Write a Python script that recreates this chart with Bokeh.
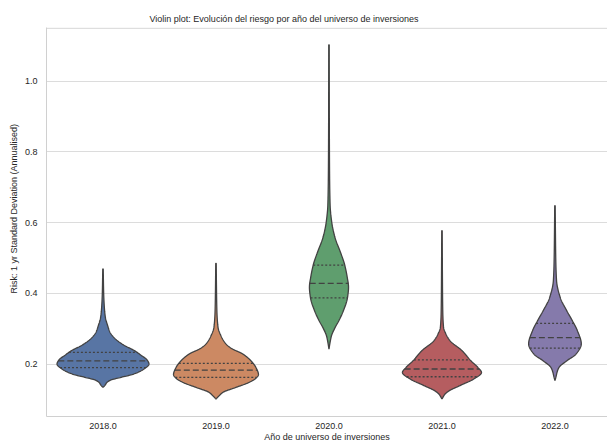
import numpy as np
from bokeh.plotting import figure
from bokeh.models import Range1d, FixedTicker, ColumnDataSource, Title, Span
from bokeh.embed import file_html
from bokeh.resources import INLINE

# ---------------- data ----------------
years = [2018.0, 2019.0, 2020.0, 2021.0, 2022.0]
colors = ["#5875a4", "#cc8963", "#5f9e6e", "#b55d60", "#857aab"]

# density profile of each violin: risk levels and half-widths (category units)
risk_2018 = [0.134, 0.140, 0.148, 0.155, 0.162, 0.172, 0.186, 0.200, 0.212, 0.225,
             0.237, 0.255, 0.275, 0.290, 0.310, 0.330, 0.360, 0.400, 0.469]
dens_2018 = [0.000, 0.018, 0.035, 0.071, 0.155, 0.274, 0.363, 0.407, 0.389, 0.336,
             0.283, 0.177, 0.097, 0.062, 0.040, 0.022, 0.012, 0.006, 0.002]

risk_2019 = [0.101, 0.110, 0.120, 0.134, 0.148, 0.160, 0.170, 0.190, 0.209, 0.228,
             0.245, 0.257, 0.280, 0.304, 0.350, 0.400, 0.485]
dens_2019 = [0.000, 0.027, 0.062, 0.177, 0.292, 0.354, 0.376, 0.354, 0.310, 0.239,
             0.133, 0.088, 0.044, 0.018, 0.008, 0.005, 0.002]

risk_2020 = [0.242, 0.260, 0.280, 0.300, 0.323, 0.351, 0.388, 0.417, 0.450, 0.483,
             0.520, 0.558, 0.600, 0.650, 0.750, 0.900, 1.103]
dens_2020 = [0.000, 0.009, 0.022, 0.049, 0.088, 0.128, 0.164, 0.173, 0.159, 0.137,
             0.097, 0.053, 0.025, 0.010, 0.005, 0.003, 0.002]

risk_2021 = [0.101, 0.115, 0.124, 0.139, 0.158, 0.176, 0.190, 0.209, 0.238, 0.266,
             0.285, 0.304, 0.350, 0.450, 0.577]
dens_2021 = [0.000, 0.027, 0.062, 0.159, 0.283, 0.350, 0.319, 0.257, 0.177, 0.071,
             0.035, 0.014, 0.007, 0.004, 0.002]

risk_2022 = [0.153, 0.165, 0.176, 0.190, 0.209, 0.228, 0.257, 0.294, 0.322, 0.351,
             0.388, 0.436, 0.500, 0.580, 0.648]
dens_2022 = [0.000, 0.010, 0.018, 0.035, 0.104, 0.186, 0.233, 0.199, 0.155, 0.104,
             0.047, 0.014, 0.007, 0.004, 0.002]

q1 = [0.190, 0.162, 0.387, 0.164, 0.245]
median = [0.209, 0.183, 0.428, 0.186, 0.275]
q3 = [0.233, 0.202, 0.480, 0.212, 0.315]

yticks = [0.2, 0.4, 0.6, 0.8, 1.0]

profiles = [(risk_2018, dens_2018), (risk_2019, dens_2019), (risk_2020, dens_2020),
            (risk_2021, dens_2021), (risk_2022, dens_2022)]


def pchip(x, y, xn):
    x = np.asarray(x, float); y = np.asarray(y, float); xn = np.asarray(xn, float)
    h = np.diff(x); d = np.diff(y) / h
    m = np.zeros_like(y)
    m[0] = d[0]; m[-1] = d[-1]
    for k in range(1, len(x) - 1):
        if d[k - 1] * d[k] <= 0:
            m[k] = 0.0
        else:
            w1 = 2 * h[k] + h[k - 1]; w2 = h[k] + 2 * h[k - 1]
            m[k] = (w1 + w2) / (w1 / d[k - 1] + w2 / d[k])
    idx = np.clip(np.searchsorted(x, xn) - 1, 0, len(x) - 2)
    t = (xn - x[idx]) / h[idx]
    h00 = 2 * t**3 - 3 * t**2 + 1; h10 = t**3 - 2 * t**2 + t
    h01 = -2 * t**3 + 3 * t**2; h11 = t**3 - t**2
    out = h00 * y[idx] + h10 * h[idx] * m[idx] + h01 * y[idx + 1] + h11 * h[idx] * m[idx + 1]
    return np.clip(out, 0, None)


xs_list, ys_list = [], []
for i, (rk, dn) in enumerate(profiles):
    yn = np.linspace(rk[0], rk[-1], 400)
    wn = pchip(rk, dn, yn)
    xs_list.append(list(np.concatenate([i - wn, (i + wn)[::-1]])))
    ys_list.append(list(np.concatenate([yn, yn[::-1]])))

src = ColumnDataSource(dict(xs=xs_list, ys=ys_list, color=colors))

med_x0, med_x1, qx0, qx1, qy = [], [], [], [], []
for i, (rk, dn) in enumerate(profiles):
    wm = float(pchip(rk, dn, [median[i]])[0])
    med_x0.append(i - wm); med_x1.append(i + wm)
    for q in (q1[i], q3[i]):
        wq = float(pchip(rk, dn, [q])[0])
        qx0.append(i - wq); qx1.append(i + wq); qy.append(q)

FONT = "Liberation Sans"
TXT = "#262626"
SPINE = "#d0d0d0"
Y_TOP = 1.152

p = figure(width=607, height=445,
           x_range=Range1d(-0.5, 4.465), y_range=Range1d(0.0516, Y_TOP),
           output_backend="svg", toolbar_location=None,
           title="Violin plot: Evolución del riesgo por año del universo de inversiones",
           min_border_left=46, min_border_right=0, min_border_top=27, min_border_bottom=29)

p.title.align = "left"
p.title.offset = 103
p.title.standoff = 8
p.title.text_font = FONT
p.title.text_font_size = "9px"
p.title.text_font_style = "normal"
p.title.text_color = TXT

p.background_fill_color = "white"
p.border_fill_color = "white"
p.outline_line_color = None

p.xgrid.visible = False
p.ygrid.grid_line_color = "#dcdcdc"
p.ygrid.grid_line_width = 1
p.ygrid.ticker = FixedTicker(ticks=yticks)

p.xaxis.ticker = FixedTicker(ticks=list(range(len(years))))
p.xaxis.major_label_overrides = {i: f"{y:.1f}" for i, y in enumerate(years)}
p.yaxis.ticker = FixedTicker(ticks=yticks)
p.yaxis.major_label_overrides = {t: f"{t:.1f}" for t in yticks}

p.xaxis.axis_label = "Año de universo de inversiones"

for ax in (p.xaxis[0], p.yaxis[0]):
    ax.axis_line_color = SPINE
    ax.axis_line_width = 1
    ax.major_tick_line_color = None
    ax.minor_tick_line_color = None
    ax.major_tick_out = 0
    ax.major_tick_in = 0
    ax.minor_tick_out = 0
    ax.major_label_text_font = FONT
    ax.major_label_text_font_size = "9px"
    ax.major_label_text_color = TXT
    ax.axis_label_text_font = FONT
    ax.axis_label_text_font_size = "9px"
    ax.axis_label_text_font_style = "normal"
    ax.axis_label_text_color = TXT

p.xaxis.major_label_standoff = 6
p.xaxis.axis_label_standoff = 0
p.yaxis.major_label_standoff = 9

# top spine (the right one is cut off in the reference), just inside the frame
p.add_layout(Span(location=Y_TOP - 0.002, dimension="width", line_color=SPINE, line_width=1))

# y-axis title, placed like the reference (slightly above the frame centre)
ytitle = Title(text="Risk: 1 yr Standard Deviation (Annualised)", align="left", offset=123,
               standoff=5, text_font=FONT, text_font_size="9px", text_font_style="normal",
               text_color=TXT)
p.add_layout(ytitle, "left")

p.patches(xs="xs", ys="ys", source=src, fill_color="color", fill_alpha=1,
          line_color="#424242", line_width=1.3)
p.segment(x0=med_x0, y0=median, x1=med_x1, y1=median, line_color="#424242",
          line_width=1.3, line_dash="6 3")
p.segment(x0=qx0, y0=qy, x1=qx1, y1=qy, line_color="#424242",
          line_width=1.3, line_dash="2 2")

open("out.html", "w").write(file_html(p, INLINE))
